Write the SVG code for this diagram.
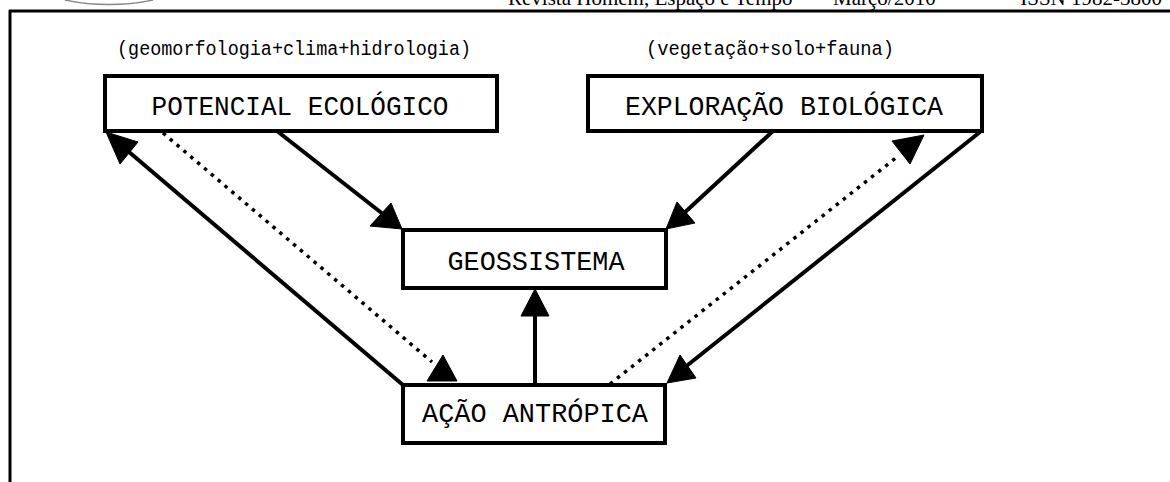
<svg xmlns="http://www.w3.org/2000/svg" width="1170" height="482" viewBox="0 0 1170 482">
<style>
.box{fill:#fff;stroke:#000;stroke-width:4}
.lbl{font-family:"Liberation Mono","DejaVu Sans Mono",monospace;font-size:27px;fill:#000;text-anchor:middle}
.sub{font-family:"Liberation Mono","DejaVu Sans Mono",monospace;font-size:20px;fill:#000;text-anchor:middle}
.hdr{font-family:"Liberation Serif","Times New Roman",serif;font-size:21px;fill:#000}
.ln{stroke:#000;stroke-width:4;fill:none}
.dot{stroke:#000;stroke-width:3.5;fill:none;stroke-dasharray:3.5 5.5}
.ah{fill:#000;stroke:#000;stroke-width:1;stroke-linejoin:round}
</style>
<rect width="1170" height="482" fill="#fff"/>
<g id="header">
<path d="M65 0 Q109 9 153 0" fill="none" stroke="#888" stroke-width="1.3"/>
<text class="hdr" x="508" y="5">Revista Homem, Espaço e Tempo</text>
<text class="hdr" x="806" y="5">–</text>
<text class="hdr" x="833" y="5">Março/2010</text>
<text class="hdr" x="980" y="5">–</text>
<text class="hdr" x="1162" y="5" text-anchor="end">ISSN 1982-3800</text>
<path d="M9 11 H1170 M10 10 V482" stroke="#000" stroke-width="3" fill="none"/>
</g>
<g id="connectors">
<line class="ln" x1="277" y1="131" x2="388" y2="218"/>
<polygon class="ah" points="402,229 370,226 391,203"/>
<line class="ln" x1="773" y1="131" x2="682" y2="215"/>
<polygon class="ah" points="666,229 677,202 695,223"/>
<line class="ln" x1="535" y1="385" x2="535" y2="305"/>
<polygon class="ah" points="535,289 521,316 549,316"/>
<line class="ln" x1="403" y1="385" x2="122" y2="146"/>
<polygon class="ah" points="106,132 120,164 138,142"/>
<line class="ln" x1="980" y1="132" x2="684" y2="368"/>
<polygon class="ah" points="667,383 680,355 696,378"/>
<line class="dot" x1="163" y1="133" x2="432" y2="362"/>
<polygon class="ah" points="443,355 427,381 457,381"/>
<line class="dot" x1="610" y1="384" x2="897" y2="157"/>
<polygon class="ah" points="892,141 924,135 910,164"/>
</g>
<g id="sub-potencial"><text class="sub" x="294" y="55" textLength="354" lengthAdjust="spacingAndGlyphs">(geomorfologia+clima+hidrologia)</text></g>
<g id="sub-exploracao"><text class="sub" x="770" y="55" textLength="248" lengthAdjust="spacingAndGlyphs">(vegetação+solo+fauna)</text></g>
<g id="potencial">
<rect class="box" x="105" y="76" width="392" height="55"/>
<text class="lbl" x="300" y="115" textLength="297" lengthAdjust="spacingAndGlyphs">POTENCIAL ECOLÓGICO</text>
</g>
<g id="exploracao">
<rect class="box" x="588" y="76" width="394" height="55"/>
<text class="lbl" x="784" y="115" textLength="318" lengthAdjust="spacingAndGlyphs">EXPLORAÇÃO BIOLÓGICA</text>
</g>
<g id="geossistema">
<rect class="box" x="403" y="230" width="263" height="58"/>
<text class="lbl" x="536" y="270" textLength="177" lengthAdjust="spacingAndGlyphs">GEOSSISTEMA</text>
</g>
<g id="acao">
<rect class="box" x="403" y="385" width="262" height="58"/>
<text class="lbl" x="535" y="422" textLength="226" lengthAdjust="spacingAndGlyphs">AÇÃO ANTRÓPICA</text>
</g>
</svg>
